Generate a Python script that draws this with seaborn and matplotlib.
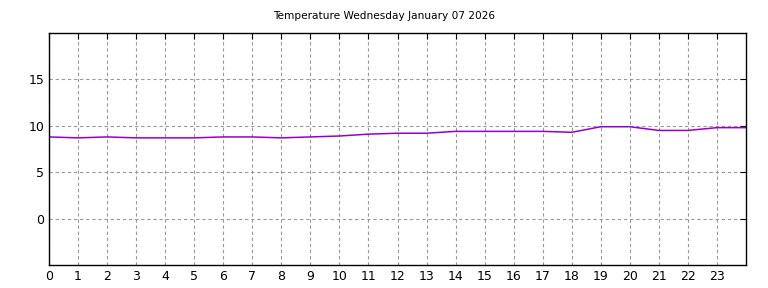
import matplotlib
matplotlib.use("Agg")
import matplotlib.pyplot as plt
import seaborn as sns
import pandas as pd

hours = list(range(25))
temps = [8.8, 8.7, 8.8, 8.7, 8.7, 8.7, 8.8, 8.8, 8.7, 8.8, 8.9, 9.1, 9.2, 9.2,
         9.4, 9.4, 9.4, 9.4, 9.3, 9.9, 9.9, 9.5, 9.5, 9.8, 9.8]
x_ticks = list(range(24))
y_ticks = [0, 5, 10, 15]
title = "Temperature Wednesday January 07 2026"

sns.set_style("white")
plt.rcParams['font.family'] = ['DejaVu Sans']

df = pd.DataFrame({"hour": hours, "temp": temps})
fig = plt.figure(figsize=(7.68, 2.88), dpi=100)
ax = fig.add_axes([49/768, 1 - 265/288, (746-49)/768, (265-33)/288])
sns.lineplot(data=df, x="hour", y="temp", ax=ax, color="#9400D3", linewidth=1.1)
ax.set_xlim(0, 24)
ax.set_ylim(-5, 20)
ax.set_xticks(x_ticks)
ax.set_yticks(y_ticks)
ax.set_xlabel("")
ax.set_ylabel("")
ax.grid(True, color="#999999", linestyle=(0, (3, 2.5)), linewidth=0.8)
ax.tick_params(direction="in", top=True, right=True, length=4, labelsize=9, colors="black")
for s in ax.spines.values():
    s.set_color("black")
    s.set_linewidth(1)
fig.suptitle(title, fontsize=7.6, y=1 - 16/288, va="center", color="black")
fig.savefig("out.png", dpi=100)
